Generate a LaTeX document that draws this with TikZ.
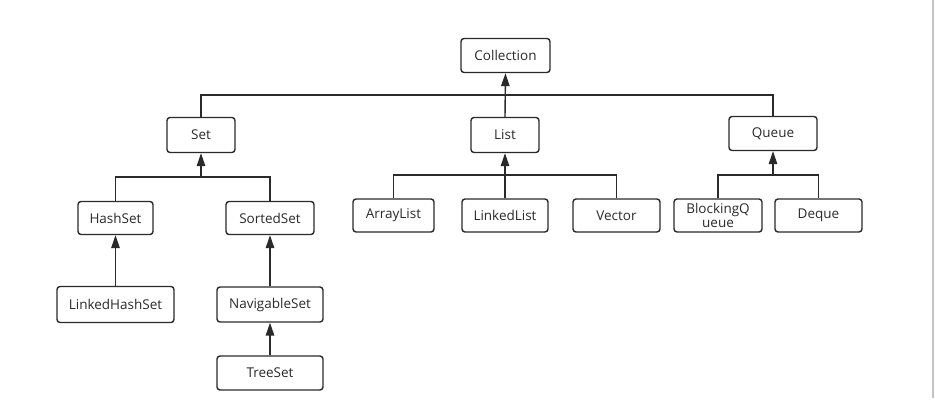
\documentclass[tikz,border=0pt]{standalone}
\usepackage{fontspec}
\setmainfont{Open Sans}
\usetikzlibrary{arrows.meta}
\definecolor{ink}{HTML}{2A2A2A}
\definecolor{edge}{HTML}{C4C4C4}
\tikzset{
  box/.style={draw=ink, line width=1.4pt, rounded corners=3pt, inner sep=0pt,
    text=ink, font=\fontsize{13.5}{13.5}\selectfont, align=center},
  link/.style={draw=ink, line width=1.4pt},
  arr/.style={link, -{Triangle[length=13pt, width=8.5pt]}}
}
\begin{document}
\begin{tikzpicture}[x=1pt, y=-1pt]
\useasboundingbox (0,0) rectangle (935,403);
\fill[white] (0,0) rectangle (935,403);
\draw[edge, line width=1.5pt] (933,0) -- (933,398);

\node[box, minimum width=89pt, minimum height=34pt] (coll) at (505.5,55.5) {Collection};
\node[box, minimum width=68pt, minimum height=35pt] (set) at (201,135) {Set};
\node[box, minimum width=68pt, minimum height=35pt] (list) at (505,135) {List};
\node[box, minimum width=88pt, minimum height=34pt] (queue) at (773,133.5) {Queue};

\node[box, minimum width=75pt, minimum height=33pt] (hashset) at (115.5,218) {HashSet};
\node[box, minimum width=88pt, minimum height=33pt] (sortedset) at (270,218) {SortedSet};
\node[box, minimum width=117pt, minimum height=36pt] (lhs) at (115.5,304.5) {LinkedHashSet};
\node[box, minimum width=106pt, minimum height=35pt] (navset) at (270,304.5) {NavigableSet};
\node[box, minimum width=106pt, minimum height=34pt] (treeset) at (270,373) {TreeSet};

\node[box, minimum width=81pt, minimum height=33pt] (arraylist) at (393.5,215.5) {ArrayList};
\node[box, minimum width=86pt, minimum height=33pt] (linkedlist) at (505,215.5) {LinkedList};
\node[box, minimum width=87pt, minimum height=33pt] (vector) at (616.5,215.5) {Vector};

\node[box, minimum width=88pt, minimum height=33pt] (bq) at (718,215.5) {BlockingQ\\ueue};
\node[box, minimum width=87pt, minimum height=33pt] (deque) at (818.5,215.5) {Deque};

\coordinate (j1) at (505,95);
\coordinate (j2) at (201,177);
\coordinate (j3) at (505,175);
\coordinate (j4) at (773,175);

\draw[link] (set.north) |- (j1) -| (queue.north);
\draw[arr] (list.north) -- (coll.south);

\draw[link] (hashset.north) |- (j2) -| (sortedset.north);
\draw[arr] (j2) -- (set.south);
\draw[arr] (lhs.north) -- (hashset.south);
\draw[arr] (navset.north) -- (sortedset.south);
\draw[arr] (treeset.north) -- (navset.south);

\draw[link] (arraylist.north) |- (j3) -| (vector.north);
\draw[arr] (linkedlist.north) -- (list.south);

\draw[link] (bq.north) |- (j4) -| (deque.north);
\draw[arr] (j4) -- (queue.south);
\end{tikzpicture}
\end{document}
